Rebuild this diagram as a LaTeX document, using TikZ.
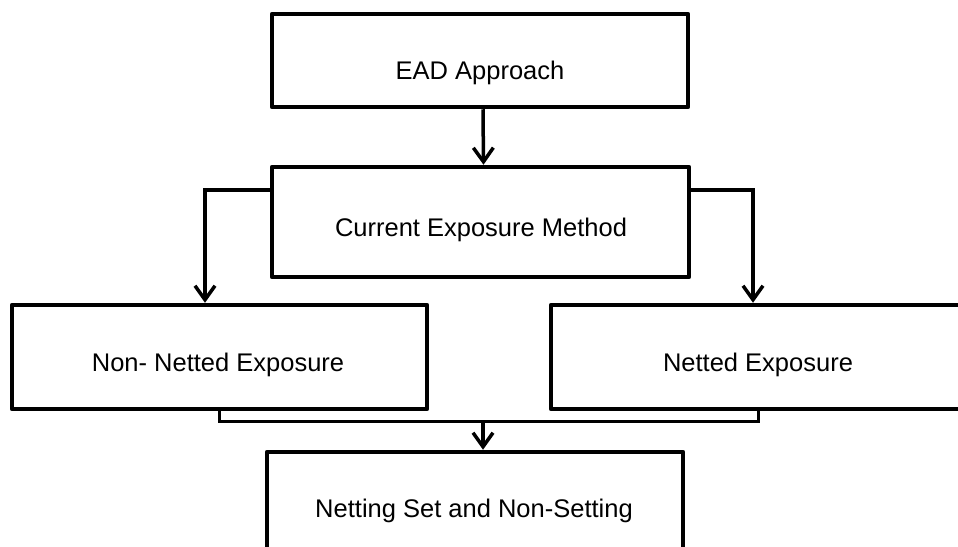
\documentclass[tikz,border=0pt]{standalone}
\usepackage{fontspec}
\setmainfont{Liberation Sans}
\usetikzlibrary{arrows.meta}
\begin{document}
\begin{tikzpicture}[x=1pt,y=-1pt,
  boxnode/.style={draw=black,line width=4.5pt,line join=round,rectangle,inner sep=0pt,fill=white},
  lbl/.style={anchor=base,inner sep=0pt,font=\fontsize{25.5}{30}\selectfont},
  arr/.style={line width=3.5pt,-{Straight Barb[length=14pt,width=20pt,line width=3.5pt]}},
  thinline/.style={line width=2.5pt,line join=miter}]
\clip (0,0) rectangle (958,546);
\fill[white] (0,0) rectangle (958,546);
\node[boxnode,minimum width=416pt,minimum height=93pt] (b1) at (480,60.5) {};
\node[boxnode,minimum width=417pt,minimum height=110pt] (b2) at (480.5,222) {};
\node[boxnode,minimum width=415pt,minimum height=104pt] (b3) at (219.5,357) {};
\node[boxnode,minimum width=415pt,minimum height=104pt] (b4) at (758.5,357) {};
\node[boxnode,minimum width=416pt,minimum height=104pt] (b5) at (475,504) {};
\node[lbl] (t1) at (480,79) {EAD Approach};
\node[lbl] (t2) at (481,236) {Current Exposure Method};
\node[lbl] (t3) at (218,371) {Non- Netted Exposure};
\node[lbl] (t4) at (758,371) {Netted Exposure};
\node[lbl] (t5) at (474,517) {Netting Set and Non-Setting};
\draw[arr] ([xshift=3pt]b1.south) -- ([xshift=3pt]b2.north);
\draw[arr,line join=miter] ([yshift=32pt]b2.west) -| ([xshift=-14.5pt]b3.north);
\draw[arr,line join=miter] ([yshift=32pt]b2.east) -| ([xshift=-5.5pt]b4.north);
\draw[thinline] (b3.south) -- ++(0,10) -| (b4.south);
\coordinate (j) at (483,421);
\draw[arr] (j) -- (j |- b5.north);
\end{tikzpicture}
\end{document}
